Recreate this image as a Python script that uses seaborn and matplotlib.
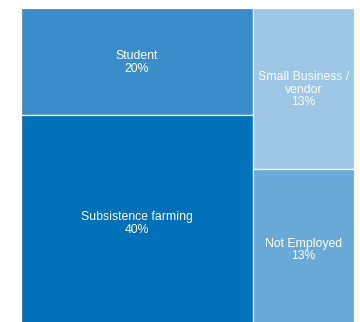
import matplotlib
matplotlib.use("Agg")
import matplotlib.pyplot as plt
from matplotlib.patches import Rectangle
import seaborn as sns

# Occupation shares (%), grouped into treemap columns (top to bottom)
col_left_labels = ["Student", "Subsistence farming"]
col_left_values = [20, 40]
col_right_labels = ["Small Business /\nvendor", "Not Employed"]
col_right_values = [13, 13]
colors_left = ["#3a8dca", "#0070b9"]
colors_right = ["#9dc7e5", "#69a9d7"]

sns.set_theme(style="white")
plt.rcParams["font.family"] = ["Liberation Sans", "DejaVu Sans"]

fig = plt.figure(figsize=(3.6, 3.22), dpi=100)
# the treemap runs a little past the bottom edge of the canvas
ax = fig.add_axes([20.7 / 360, -7 / 322, 333.3 / 360, 321 / 322])
ax.set_xlim(0, 1)
ax.set_ylim(0, 1)
ax.axis("off")

columns = [
    (col_left_labels, col_left_values, colors_left),
    (col_right_labels, col_right_values, colors_right),
]
grand_total = sum(sum(v) for _, v, _ in columns)

x0 = 0.0
for labels, values, colors in columns:
    col_total = sum(values)
    w = col_total / grand_total
    y_top = 1.0
    for lab, val, col in zip(labels, values, colors):
        h = val / col_total
        ax.add_patch(Rectangle((x0, y_top - h), w, h, facecolor=col,
                               edgecolor="white", linewidth=0.9))
        ax.text(x0 + w / 2, y_top - h / 2 - 0.004, f"{lab}\n{val}%",
                ha="center", va="center", color="white", fontsize=8.8,
                linespacing=1.1)
        y_top -= h
    x0 += w

fig.savefig("out.png", dpi=100)
